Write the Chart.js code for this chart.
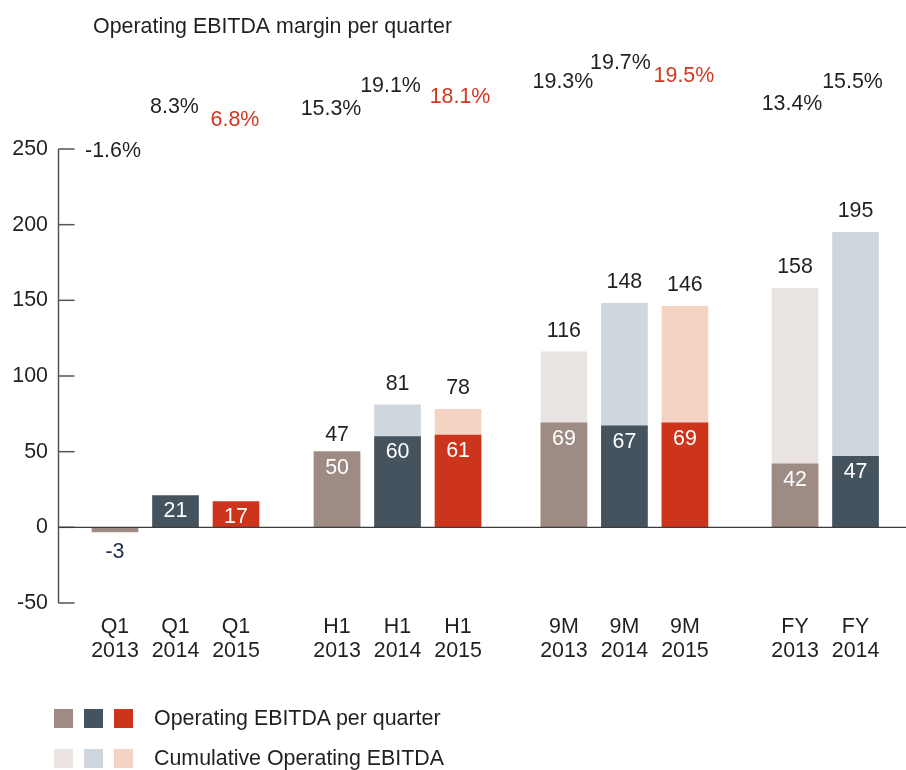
<!DOCTYPE html>
<html><head><meta charset="utf-8">
<script src="https://cdn.jsdelivr.net/npm/chart.js@4"></script>
<style>
html,body{margin:0;padding:0;background:#fff;}
#wrap{position:relative;width:906px;height:770px;overflow:hidden;}
canvas{display:block;}
.row{position:absolute;left:0;height:19px;}
.sq{position:absolute;top:0;width:19px;height:19px;}
.txt{position:absolute;left:154px;top:-3px;font:21.4px 'Liberation Sans',Arial,sans-serif;color:#231f20;line-height:25px;white-space:nowrap;}
</style></head><body>
<div id="wrap"><canvas id="c" width="906" height="770"></canvas><div id="legend"></div></div>
<script>
// ---- data ----
const categories = [['Q1','2013'],['Q1','2014'],['Q1','2015'],['H1','2013'],['H1','2014'],['H1','2015'],['9M','2013'],['9M','2014'],['9M','2015'],['FY','2013'],['FY','2014']];
const quarterEbitda = [-3, 21, 17, 50, 60, 61, 69, 67, 69, 42, 47];
const cumulativeEbitda = [null, null, null, 47, 81, 78, 116, 148, 146, 158, 195];
const margins = ['-1.6%','8.3%','6.8%','15.3%','19.1%','18.1%','19.3%','19.7%','19.5%','13.4%','15.5%'];
const yTicks = [-50, 0, 50, 100, 150, 200, 250];
const seriesNames = ['Operating EBITDA per quarter', 'Cumulative Operating EBITDA'];
const chartTitle = 'Operating EBITDA margin per quarter';

// ---- styles / layout ----
const FONT = "'Liberation Sans', Arial, sans-serif";
const FS = 21.4;
const TXT = '#231f20', RED = '#d0381f', NAVY = '#1d2b57';
const darkColors = {'2013':'#9e8c84','2014':'#44535e','2015':'#cc341c'};
const lightColors = {'2013':'#e9e4e1','2014':'#cfd6dd','2015':'#f5d3c3'};
const groupStart = {'Q1':0, 'H1':3.67, '9M':7.42, 'FY':11.24};
const years = categories.map(c => c[1]);
const seen = {};
const xPos = categories.map(c => { const k = c[0]; seen[k] = (seen[k] || 0); const v = groupStart[k] + seen[k]; seen[k]++; return v; });
// margin label placement (pixel rows, layout only)
const marginRowY = [151,107,120,109,86,97,82,63,76,104,82];
const marginDx = [-2,-1,-1,-6,-7,2,-1,-4,-1,-3,-3];

const labelPlugin = {
  id: 'labels',
  afterDatasetsDraw(chart) {
    const {ctx, chartArea, scales} = chart;
    const x = scales.x, y = scales.y;
    const line = (a,b,c,d) => { ctx.beginPath(); ctx.moveTo(a,b); ctx.lineTo(c,d); ctx.stroke(); };
    ctx.save();
    const ax = chartArea.left + 0.5;
    ctx.strokeStyle = '#555'; ctx.lineWidth = 1.5;
    line(ax, y.getPixelForValue(yTicks[yTicks.length-1]), ax, y.getPixelForValue(yTicks[0]));
    yTicks.forEach(v => { const p = y.getPixelForValue(v); line(ax, p, ax + 16, p); });
    ctx.strokeStyle = '#3c3c3c'; ctx.lineWidth = 1.2;
    const y0 = y.getPixelForValue(0);
    line(ax, y0, chart.width, y0);

    ctx.font = FS + 'px ' + FONT;
    ctx.textAlign = 'center'; ctx.textBaseline = 'middle';
    xPos.forEach((xv, i) => {
      const px = x.getPixelForValue(xv);
      const q = quarterEbitda[i];
      if (q < 0) { ctx.fillStyle = NAVY; ctx.fillText(String(q), px, y0 + 25); }
      else { ctx.fillStyle = '#fff'; ctx.fillText(String(q), px, y.getPixelForValue(q) + 16); }
      const c = cumulativeEbitda[i];
      if (c !== null) { ctx.fillStyle = TXT; ctx.fillText(String(c), px, y.getPixelForValue(c) - 21); }
      ctx.fillStyle = years[i] === '2015' ? RED : TXT;
      ctx.fillText(margins[i], px + marginDx[i], marginRowY[i]);
    });
    ctx.textAlign = 'left'; ctx.fillStyle = TXT;
    ctx.fillText(chartTitle, 93, 27);
    ctx.restore();
  }
};

new Chart(document.getElementById('c'), {
  type: 'bar',
  data: {
    datasets: [
      { label: seriesNames[0], data: xPos.map((v,i) => ({x: v, y: quarterEbitda[i]})),
        backgroundColor: years.map(yr => darkColors[yr]), barThickness: 46, grouped: false, order: 1 },
      { label: seriesNames[1], data: xPos.map((v,i) => ({x: v, y: cumulativeEbitda[i]})),
        backgroundColor: years.map(yr => lightColors[yr]), barThickness: 46, grouped: false, order: 2 }
    ]
  },
  options: {
    responsive: false, animation: false, devicePixelRatio: 1,
    layout: { padding: { top: 149, left: 0, right: 0, bottom: 97 } },
    plugins: { legend: { display: false }, tooltip: { enabled: false } },
    scales: {
      x: {
        type: 'linear', min: -0.942, max: 13.074, offset: false,
        grid: { display: false, drawTicks: false, offset: false }, border: { display: false },
        afterBuildTicks: s => { s.ticks = xPos.map(v => ({value: v})); },
        afterFit: s => { s.height = 70; },
        ticks: { autoSkip: false, maxRotation: 0, padding: 12, color: TXT,
          font: { family: FONT, size: FS, lineHeight: 1.12 },
          callback: (v, i) => categories[i] }
      },
      y: {
        min: -50, max: 250,
        grid: { display: false, drawTicks: false }, border: { display: false },
        afterBuildTicks: s => { s.ticks = yTicks.map(v => ({value: v})); },
        afterFit: s => { s.width = 58; },
        ticks: { padding: 10, color: TXT, font: { family: FONT, size: FS } }
      }
    }
  },
  plugins: [labelPlugin]
});

// legend (HTML)
const legend = document.getElementById('legend');
[[darkColors, 709, seriesNames[0]], [lightColors, 749, seriesNames[1]]].forEach(([cols, top, name]) => {
  const row = document.createElement('div'); row.className = 'row'; row.style.top = top + 'px';
  ['2013','2014','2015'].forEach((yr, k) => {
    const s = document.createElement('div'); s.className = 'sq';
    s.style.left = (54 + 30 * k) + 'px'; s.style.background = cols[yr]; row.appendChild(s);
  });
  const t = document.createElement('div'); t.className = 'txt'; t.textContent = name; row.appendChild(t);
  legend.appendChild(row);
});
</script>
</body></html>
